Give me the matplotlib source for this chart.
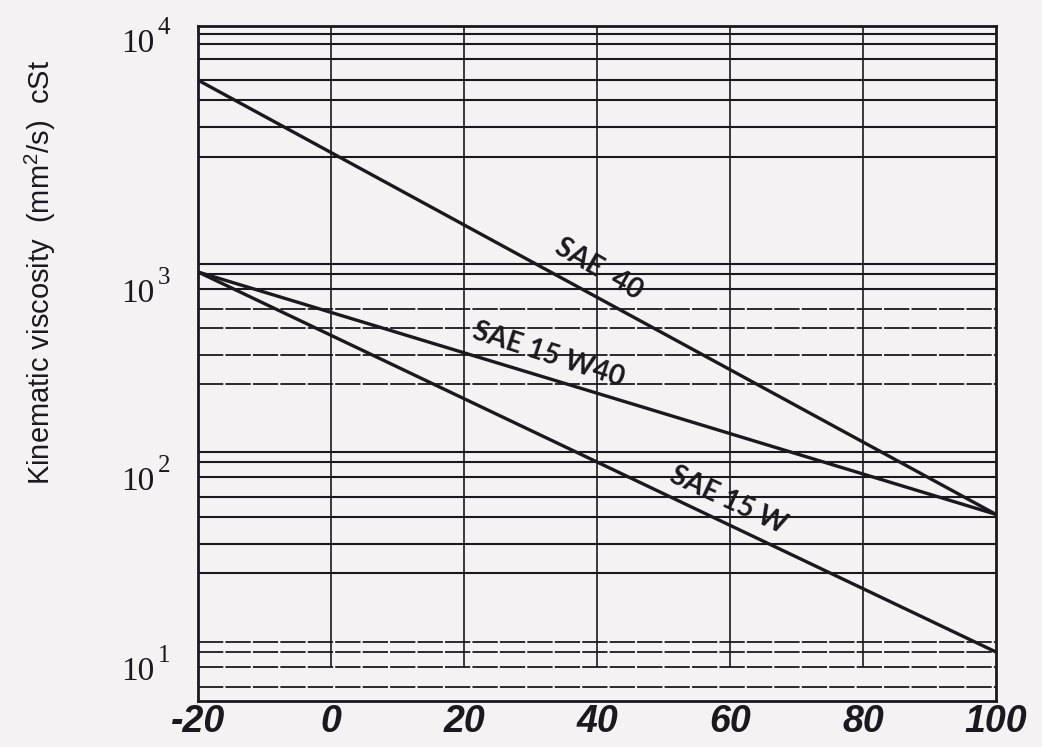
import numpy as np
import matplotlib
matplotlib.use("Agg")
import matplotlib.pyplot as plt

# ---------------- data ----------------
temps = [-20, 100]                 # temperature, deg C
sae40 = [6500, 53]                 # kinematic viscosity, mm^2/s
sae15w40 = [1025, 53]
sae15w = [1025, 10]

series_names = ["SAE  40", "SAE 15 W40", "SAE 15 W"]
label_pos = [(40.2, 1065), (32.7, 371), (59.8, 63)]   # (temp, viscosity) of label centre
label_rot = [-30, -18, -25]

xticks = [-20, 0, 20, 40, 60, 80, 100]
xticklabels = ["-20", "0", "20", "40", "60", "80", "100"]
ydecades = [10, 100, 1000, 10000]
ydecade_exps = ["1", "2", "3", "4"]
vgrid = [0, 20, 40, 60, 80]

# ---------------- style ----------------
INK = "#1c181f"
PAPER = "#f4f2f3"

# Chart's own (hand drawn) viscosity scale: piecewise log mapping
KLOG = np.log10([1, 10, 100, 1000, 1130, 2600, 10000, 100000])
KPOS = np.array([-842, -652, -462, -274, -264, -157, -44, 149], dtype=float)


def fwd(v):
    v = np.asarray(v, dtype=float)
    return np.interp(np.log10(np.maximum(v, 1e-6)), KLOG, KPOS)


def inv(u):
    u = np.asarray(u, dtype=float)
    return 10 ** np.interp(u, KPOS, KLOG)


GRID_MULT = [1.13, 1.0, 0.834, 0.654, 0.514, 0.37, 0.26]
PX = 0.72  # points per pixel at 100 dpi

fig = plt.figure(figsize=(10.42, 7.47), dpi=100, facecolor=PAPER)
ax = fig.add_axes([198 / 1042, 1 - 701 / 747, (996 - 198) / 1042, (701 - 26) / 747])
ax.set_facecolor(PAPER)
ax.set_yscale("function", functions=(fwd, inv))
ax.set_xlim(-20, 100)
ylo, yhi = float(inv(-701)), float(inv(-26))
ax.set_ylim(ylo, yhi)

# horizontal grid
for d in ydecades:
    for m in GRID_MULT:
        v = d * m
        if not (ylo < v < yhi):
            continue
        dashed = (d == 10) or (d == 1000 and m < 0.7)
        ax.axhline(v, color=INK, lw=1.5 if not dashed else 1.3,
                   ls=(0, (14, 1.2)) if dashed else "-", zorder=1)

# vertical grid (stops at the 8.34 line as in the original)
ax.vlines(vgrid, 8.34, yhi, color=INK, lw=1.2, zorder=1)

# curves
for vals in (sae40, sae15w40, sae15w):
    ax.plot(temps, vals, color=INK, lw=2.4, solid_capstyle="butt", zorder=3)

# curve labels
for name, (lx, ly), rot in zip(series_names, label_pos, label_rot):
    ax.text(lx, ly, name, rotation=rot, rotation_mode="anchor", ha="center",
            va="center", fontsize=20, fontweight="bold", family="Lato",
            color=INK, zorder=4)

# axes / ticks
for s in ax.spines.values():
    s.set_linewidth(2.0)
    s.set_color(INK)
ax.set_xticks(xticks)
ax.set_xticklabels(xticklabels, fontsize=27, fontweight="bold", style="italic",
                   family=["Liberation Sans Narrow", "Liberation Sans"], color=INK)
ax.tick_params(axis="x", length=0, pad=2.5)
ax.set_yticks([])
ax.yaxis.set_minor_locator(matplotlib.ticker.NullLocator())
ax.xaxis.set_minor_locator(matplotlib.ticker.NullLocator())

# decade labels "10" with superscript exponent (placed like the original)
label_dy = [-28, -28, -28, -8]   # baseline offsets (px) of the "10", for 10,100,1000,10000
for d, e, dy in zip(ydecades, ydecade_exps, label_dy):
    ax.annotate("10", xy=(0, d), xycoords=("axes fraction", "data"),
                xytext=(-44 * PX, dy * PX), textcoords="offset points",
                ha="right", va="baseline", fontsize=24, family="Liberation Serif",
                color=INK, annotation_clip=False)
    ax.annotate(e, xy=(0, d), xycoords=("axes fraction", "data"),
                xytext=(-40 * PX, (dy + 18) * PX), textcoords="offset points",
                ha="left", va="baseline", fontsize=18, family="Liberation Serif",
                color=INK, annotation_clip=False)

fig.text(40 / 1042, 1 - 272 / 747,
         r"Kinematic viscosity  (mm$\mathregular{^{2}}$/s)  cSt",
         rotation=90, ha="center", va="center", fontsize=21,
         family="Liberation Sans", color=INK)

fig.savefig("out.png", dpi=100, facecolor=PAPER)
